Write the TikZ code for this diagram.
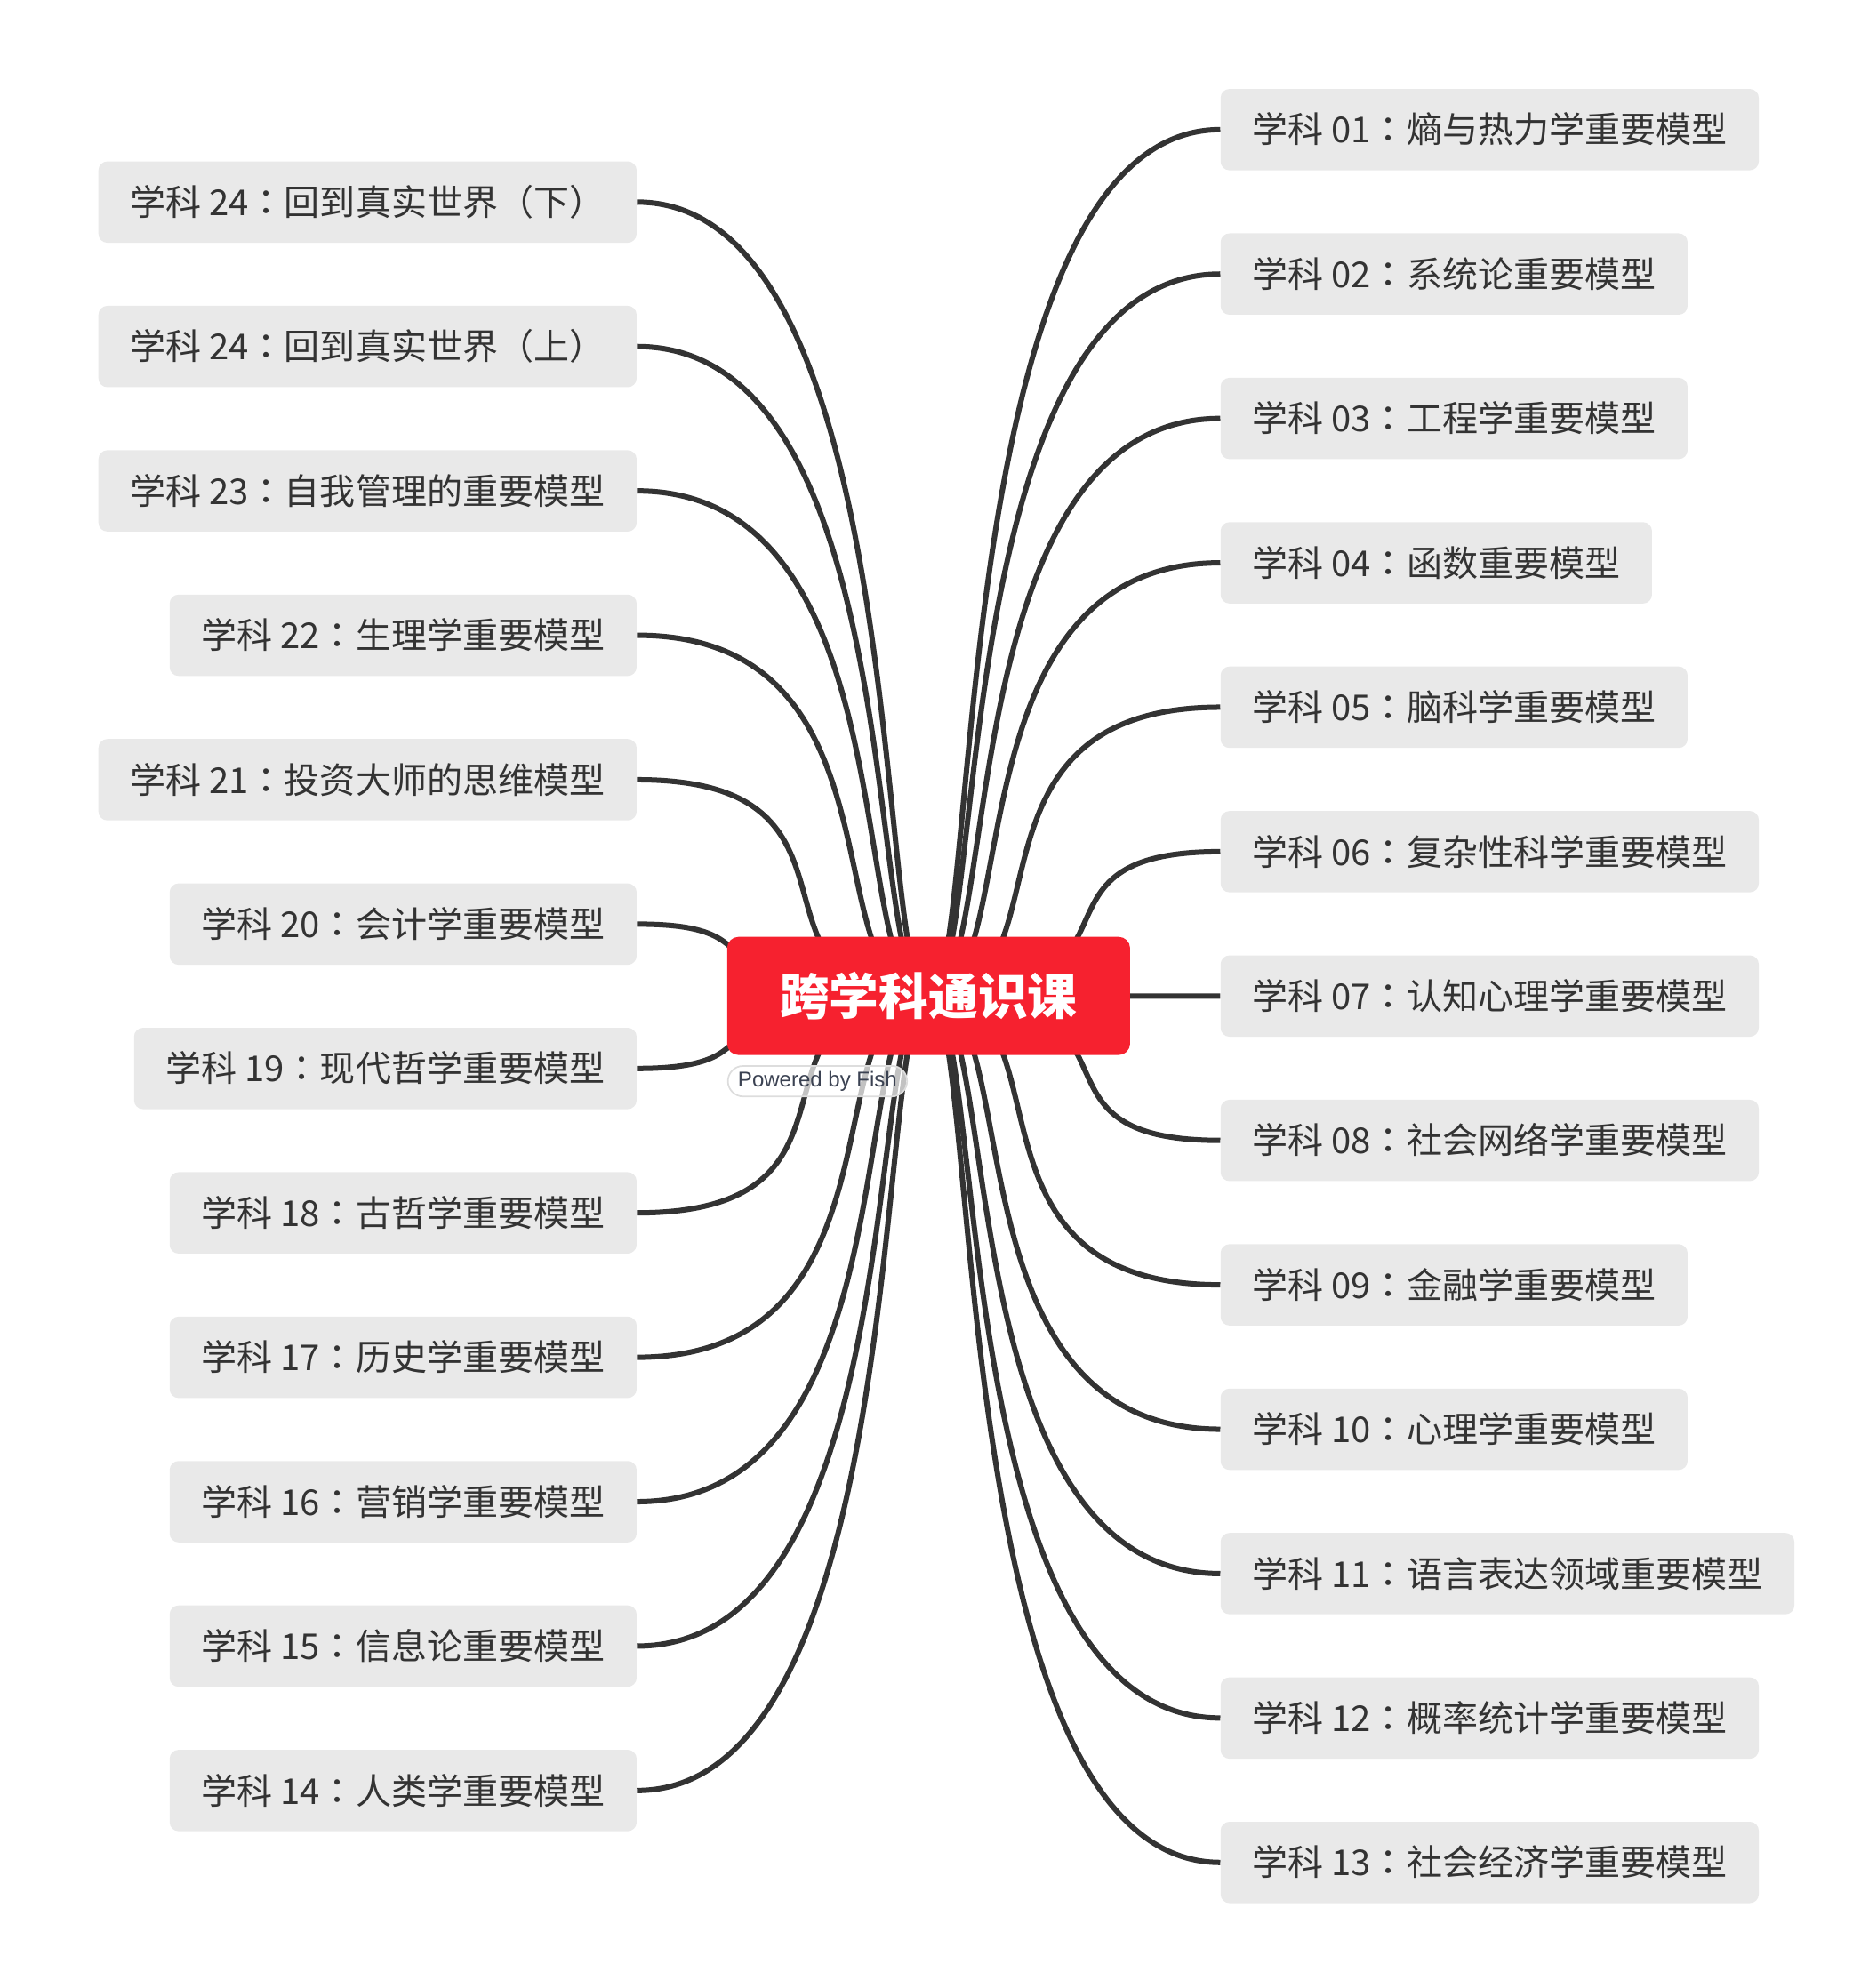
\documentclass[tikz,border=0pt]{standalone}
\usepackage{fontspec}
\setmainfont{Noto Sans CJK SC}
\newfontfamily\cjktc{Noto Sans CJK TC}
\newfontfamily\latinsans{Liberation Sans}
\usetikzlibrary{calc}
\definecolor{linkc}{HTML}{333333}
\definecolor{boxc}{HTML}{E9E9E9}
\definecolor{rootc}{HTML}{F6212F}
\definecolor{txtc}{HTML}{333333}
\definecolor{pilltxt}{HTML}{3B4252}
\definecolor{pillline}{HTML}{DDDDDD}
\newcommand{\fc}{{\cjktc ：}}
\pgfdeclarelayer{bg}
\pgfsetlayers{bg,main}
\begin{document}
\begin{tikzpicture}[x=1pt,y=-1pt,
  topic/.style={fill=boxc, rounded corners=7pt, text=txtc,
    font=\fontsize{28}{34}\selectfont, inner xsep=25pt, inner ysep=0pt,
    minimum height=64pt, text height=24.6pt, text depth=3.4pt},
  rt/.style={topic, anchor=west},
  lt/.style={topic, anchor=east},
  link/.style={draw=linkc, line width=4.2pt},
  root/.style={fill=rootc, rounded corners=9pt, text=white,
    font=\fontsize{39}{47}\selectfont\bfseries, minimum width=317pt,
    minimum height=93pt, inner sep=0pt, text height=34.3pt, text depth=4.7pt},
  pill/.style={draw=pillline, line width=1.2pt, fill=white, fill opacity=0.7,
    text opacity=1, rounded corners=12pt, minimum width=141pt, minimum height=24pt,
    inner sep=0pt, text=pilltxt, font=\latinsans\fontsize{16.8}{20}\selectfont,
    anchor=north west}
]
\useasboundingbox (0,0) rectangle (1470,1564);

\node[root] (c) at (730.5,783.5) {跨学科通识课};
\node[pill] (pw) at (572,838) {Powered by Fish};

% right topics
\node[rt] (r01) at (960,102.0) {学科 01\fc 熵与热力学重要模型};
\node[rt] (r02) at (960,215.6) {学科 02\fc 系统论重要模型};
\node[rt] (r03) at (960,329.2) {学科 03\fc 工程学重要模型};
\node[rt] (r04) at (960,442.8) {学科 04\fc 函数重要模型};
\node[rt] (r05) at (960,556.4) {学科 05\fc 脑科学重要模型};
\node[rt] (r06) at (960,670.0) {学科 06\fc 复杂性科学重要模型};
\node[rt] (r07) at (960,783.6) {学科 07\fc 认知心理学重要模型};
\node[rt] (r08) at (960,897.2) {学科 08\fc 社会网络学重要模型};
\node[rt] (r09) at (960,1010.8) {学科 09\fc 金融学重要模型};
\node[rt] (r10) at (960,1124.4) {学科 10\fc 心理学重要模型};
\node[rt] (r11) at (960,1238.0) {学科 11\fc 语言表达领域重要模型};
\node[rt] (r12) at (960,1351.6) {学科 12\fc 概率统计学重要模型};
\node[rt] (r13) at (960,1465.2) {学科 13\fc 社会经济学重要模型};

% left topics
\node[lt] (l24b) at (501,159.0) {学科 24\fc 回到真实世界（下）};
\node[lt] (l24a) at (501,272.6) {学科 24\fc 回到真实世界（上）};
\node[lt] (l23) at (501,386.2) {学科 23\fc 自我管理的重要模型};
\node[lt] (l22) at (501,499.8) {学科 22\fc 生理学重要模型};
\node[lt] (l21) at (501,613.4) {学科 21\fc 投资大师的思维模型};
\node[lt] (l20) at (501,727.0) {学科 20\fc 会计学重要模型};
\node[lt] (l19) at (501,840.6) {学科 19\fc 现代哲学重要模型};
\node[lt] (l18) at (501,954.2) {学科 18\fc 古哲学重要模型};
\node[lt] (l17) at (501,1067.8) {学科 17\fc 历史学重要模型};
\node[lt] (l16) at (501,1181.4) {学科 16\fc 营销学重要模型};
\node[lt] (l15) at (501,1295.0) {学科 15\fc 信息论重要模型};
\node[lt] (l14) at (501,1408.6) {学科 14\fc 人类学重要模型};

\begin{pgfonlayer}{bg}
% right links
\foreach \n/\a/\e in {r01/42/218, r02/46.6/218, r03/58.3/215, r04/77.6/218,
  r05/116.5/218, r06/188/168, r08/188/168, r09/116.5/218, r10/77.6/218,
  r11/58.3/215, r12/46.6/218, r13/42/218}
  \draw[link] (c.center) .. controls ($(c.center)+(\a,0)$) and ($(\n.west)+(-\e,0)$) .. (\n.west);
\draw[link] (c.center) -- (r07.west);
% left links
\foreach \n/\a/\e in {l24b/43/218, l24a/51.8/218, l23/66.6/218, l22/93.2/218,
  l21/160.6/202, l20/206.5/126, l19/206.5/126, l18/160.6/202, l17/93.2/218,
  l16/66.6/218, l15/51.8/218, l14/43/218}
  \draw[link] (c.center) .. controls ($(c.center)+(-\a,0)$) and ($(\n.east)+(\e,0)$) .. (\n.east);
\end{pgfonlayer}
\end{tikzpicture}
\end{document}
